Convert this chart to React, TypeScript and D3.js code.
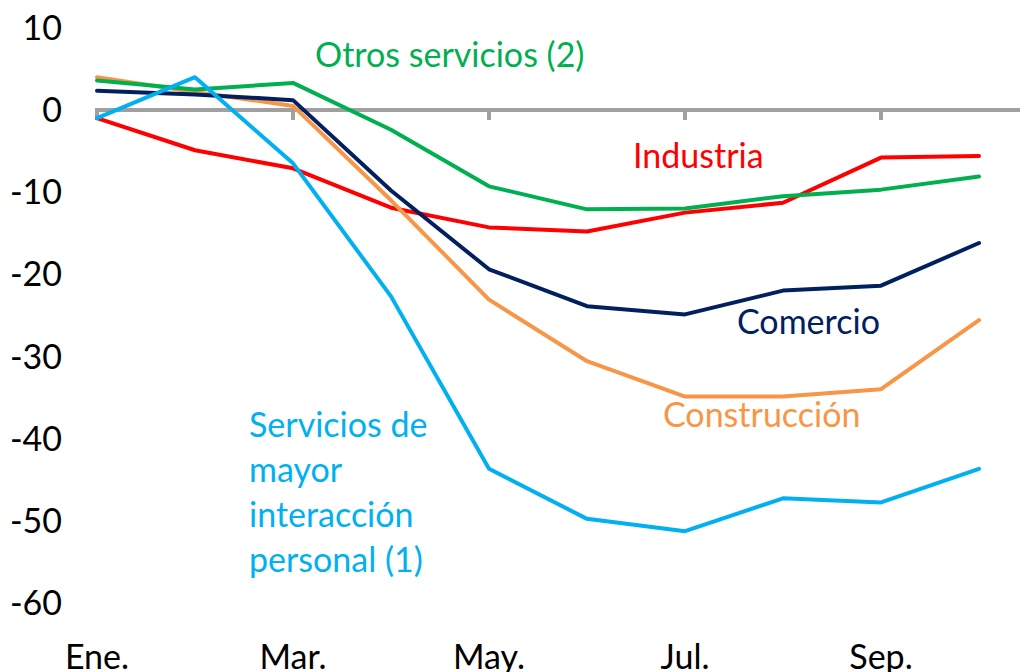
import React from "react";
import * as d3 from "d3";

const months = ["Ene.", "Feb.", "Mar.", "Abr.", "May.", "Jun.", "Jul.", "Ago.", "Sep.", "Oct."];
const tickMonths = ["Ene.", "Mar.", "May.", "Jul.", "Sep."];
const yTicks = [10, 0, -10, -20, -30, -40, -50, -60];

const industria = [-1.0, -4.9, -7.1, -11.9, -14.3, -14.8, -12.5, -11.3, -5.8, -5.6];
const construccion = [4.0, 2.2, 0.5, -11.0, -23.1, -30.6, -34.9, -34.9, -34.0, -25.6];
const comercio = [2.35, 1.9, 1.2, -9.8, -19.4, -23.9, -24.9, -22.0, -21.4, -16.2];
const otros = [3.6, 2.5, 3.3, -2.4, -9.3, -12.1, -12.0, -10.5, -9.7, -8.1];
const interaccion = [-1.0, 4.0, -6.5, -22.7, -43.7, -49.8, -51.3, -47.3, -47.8, -43.7];

const seriesList = [
  { name: "Industria", values: industria, color: "#FF0000" },
  { name: "Construcción", values: construccion, color: "#F79646" },
  { name: "Comercio", values: comercio, color: "#002060" },
  { name: "Otros servicios (2)", values: otros, color: "#00B050" },
  { name: "Servicios de mayor interacción personal (1)", values: interaccion, color: "#00B0F0" },
];

const labels = [
  { lines: ["Otros servicios (2)"], x: 315, y: 67, color: "#00B050" },
  { lines: ["Industria"], x: 633, y: 168, color: "#FF0000" },
  { lines: ["Comercio"], x: 737, y: 334, color: "#002060" },
  { lines: ["Construcción"], x: 663, y: 427, color: "#F79646" },
  { lines: ["Servicios de", "mayor", "interacción", "personal (1)"], x: 249, y: 437, color: "#00B0F0" },
];

const FONT = "Lato, 'Open Sans', sans-serif";

export default function App() {
  const W = 1020;
  const H = 672;
  const x = d3.scalePoint<string>().domain(months).range([97, 979]);
  const y = d3.scaleLinear().domain([-60, 10]).range([602.6, 27.9]);
  const line = d3
    .line<number>()
    .x((_, i) => x(months[i]) as number)
    .y((d) => y(d));

  return (
    <svg
      width={W}
      height={H}
      style={{ position: "fixed", left: 0, top: 0, background: "#fff" }}
      fontFamily={FONT}
    >
      {/* y tick labels */}
      {yTicks.map((t) => (
        <text key={t} x={62} y={y(t)} dy="0.36em" textAnchor="end" fontSize={34} fill="#000">
          {t}
        </text>
      ))}
      {/* x tick labels */}
      {tickMonths.map((m) => (
        <text key={m} x={x(m) as number} y={669} textAnchor="middle" fontSize={34} fill="#000">
          {m}
        </text>
      ))}
      {/* zero axis */}
      <line x1={95} x2={W} y1={y(0)} y2={y(0)} stroke="#A0A0A0" strokeWidth={4} />
      {tickMonths.map((m) => (
        <line
          key={"t" + m}
          x1={x(m) as number}
          x2={x(m) as number}
          y1={y(0)}
          y2={y(0) + 10}
          stroke="#A0A0A0"
          strokeWidth={4}
        />
      ))}
      {/* series */}
      {seriesList.map((s) => (
        <path
          key={s.name}
          d={line(s.values) as string}
          fill="none"
          stroke={s.color}
          strokeWidth={4}
          strokeLinejoin="round"
          strokeLinecap="round"
        />
      ))}
      {/* labels */}
      {labels.map((l) => (
        <text key={l.lines[0]} x={l.x} y={l.y} fontSize={34} fill={l.color}>
          {l.lines.map((ln, i) => (
            <tspan key={i} x={l.x} dy={i === 0 ? 0 : 45}>
              {ln}
            </tspan>
          ))}
        </text>
      ))}
    </svg>
  );
}
